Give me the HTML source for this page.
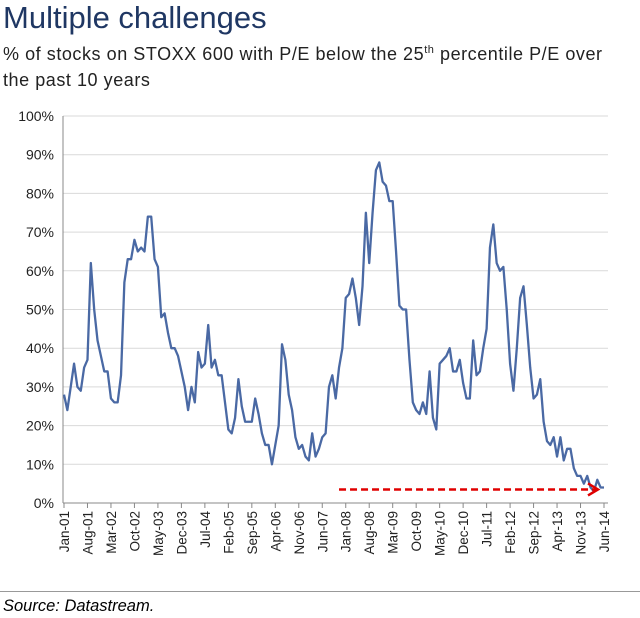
<!DOCTYPE html>
<html><head><meta charset="utf-8"><style>
body{margin:0;width:640px;height:618px;background:#fff;font-family:"Liberation Sans",sans-serif;overflow:hidden;position:relative}
#title{position:absolute;left:3px;top:0px;font-size:31px;color:#1f3763}
#sub{position:absolute;left:3px;top:41px;font-size:18px;letter-spacing:0.55px;line-height:26px;color:#222}
#src{position:absolute;left:3px;top:597px;font-size:16.5px;font-style:italic;color:#000}
#div{position:absolute;left:0;top:591px;width:640px;height:1px;background:#999}
svg{position:absolute;left:0;top:0}
</style></head><body>
<div id="title">Multiple challenges</div>
<div id="sub">% of stocks on STOXX 600 with P/E below the 25<sup style="font-size:11px;line-height:0">th</sup> percentile P/E over<br>the past 10 years</div>
<svg id="chart" width="640" height="618"></svg>
<div id="div"></div>
<div id="src">Source: Datastream.</div>
<script>
const values=[28,24,30,36,30,29,35,37,62,50,42,38,34,34,27,26,26,33,57,63,63,68,65,66,65,74,74,63,61,48,49,44,40,40,38,34,30,24,30,26,39,35,36,46,35,37,33,33,26,19,18,22,32,25,21,21,21,27,23,18,15,15,10,15,20,41,37,28,24,17,14,15,12,11,18,12,14,17,18,30,33,27,35,40,53,54,58,53,46,56,75,62,75,86,88,83,82,78,78,65,51,50,50,37,26,24,23,26,23,34,22,19,36,37,38,40,34,34,37,31,27,27,42,33,34,40,45,66,72,62,60,61,50,36,29,40,53,56,46,35,27,28,32,21,16,15,17,12,17,11,14,14,9,7,7,5,7,4,3,6,4,4];
const tickLabels=["Jan-01","Aug-01","Mar-02","Oct-02","May-03","Dec-03","Jul-04","Feb-05","Sep-05","Apr-06","Nov-06","Jun-07","Jan-08","Aug-08","Mar-09","Oct-09","May-10","Dec-10","Jul-11","Feb-12","Sep-12","Apr-13","Nov-13","Jun-14"];
const yTicks=[0,10,20,30,40,50,60,70,80,90,100];
const arrowLevel=[3.5];
const arrowStart=[82];
const NS="http://www.w3.org/2000/svg",svg=document.getElementById('chart');
const x0=64,x1=604,yB=503,yT=116;
const X=i=>x0+(x1-x0)*i/(values.length-1);
const Y=v=>yB-(yB-yT)*v/100;
function mk(t,a){const e=document.createElementNS(NS,t);for(const k in a)e.setAttribute(k,a[k]);svg.appendChild(e);return e;}
yTicks.forEach(v=>{
 if(v>0){const g=mk('line',{x1:63,x2:608,y1:Y(v),y2:Y(v),stroke:'#d9d9d9','stroke-width':1});
 
 }
 const t=mk('text',{x:54,y:Y(v)+5,'text-anchor':'end','font-size':14,fill:'#222','font-family':'Liberation Sans, sans-serif'});
 t.textContent=v+'%';
 
 
});
const ya=mk('line',{x1:63,x2:63,y1:yT,y2:yB,stroke:'#888'});


const xa=mk('line',{x1:63,x2:608,y1:yB,y2:yB,stroke:'#888'});


tickLabels.forEach((l,k)=>{
 const x=X(k*7);
 const tk=mk('line',{x1:x,x2:x,y1:yB,y2:yB+5,stroke:'#888'});
 
 
 const t=mk('text',{x:0,y:0,'text-anchor':'end','font-size':13.5,fill:'#222','font-family':'Liberation Sans, sans-serif',transform:`translate(${x+5},${yB+8}) rotate(-90)`});
 t.textContent=l;
 
 
});
const p=mk('polyline',{points:values.map((v,i)=>X(i)+','+Y(v)).join(' '),fill:'none',stroke:'#4a69a4','stroke-width':2.3,'stroke-linejoin':'round'});


const ay=Y(arrowLevel[0]),ax0=X(arrowStart[0]),ax1=X(values.length-1)-6;
const ar=mk('line',{x1:ax0,x2:ax1-2,y1:ay,y2:ay,stroke:'#e00000','stroke-width':2.5,'stroke-dasharray':'7,4'});


const ah=mk('polyline',{points:`${ax1-10},${ay-6} ${ax1},${ay} ${ax1-10},${ay+6}`,fill:'none',stroke:'#e00000','stroke-width':2.5});


</script>
</body></html>
